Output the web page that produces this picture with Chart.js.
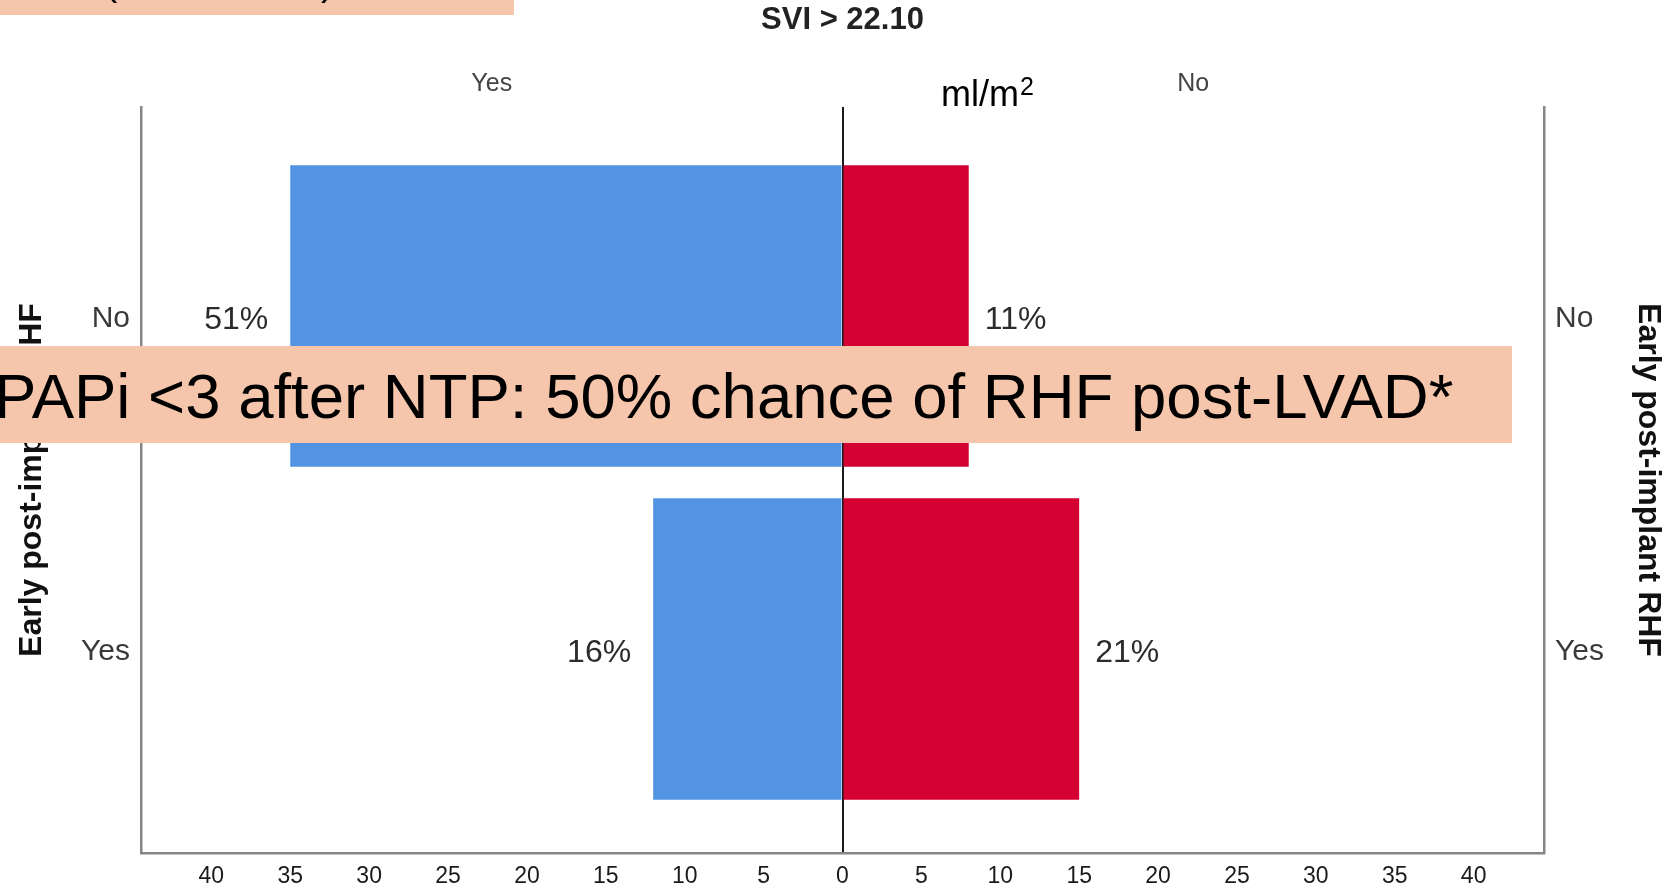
<!DOCTYPE html>
<html>
<head>
<meta charset="utf-8">
<script src="https://cdn.jsdelivr.net/npm/chart.js@4.4.1/dist/chart.umd.min.js"></script>
<style>
  html, body { margin: 0; padding: 0; background: #fff; }
  canvas { display: block; }
</style>
</head>
<body>
<canvas id="rhfChart" width="1672" height="889"></canvas>
<script>
// rows = Early post-implant RHF (No / Yes)
const rowLabels = ['No', 'Yes'];
// top groups = SVI > 22.10 (Yes on the left, No on the right)
const sviLabels = ['Yes', 'No'];
const sviYesCounts = [35, 12];
const sviNoCounts = [8, 15];
const sviYesPct = ['51%', '16%'];
const sviNoPct = ['11%', '21%'];
const xTicks = [-40, -35, -30, -25, -20, -15, -10, -5, 0, 5, 10, 15, 20, 25, 30, 35, 40];

Chart.defaults.font.family = '"Liberation Sans", Arial, sans-serif';

const yRange = { min: -0.6276, max: 1.6126 };
const frameColor = '#858585';

function rowTicks(scale) {
  scale.ticks = rowLabels.map((l, i) => ({ value: i }));
}

const barLabels = {
  id: 'barLabels',
  afterDatasetsDraw(chart) {
    const ctx = chart.ctx;
    ctx.save();
    ctx.font = '32px "Liberation Sans", Arial, sans-serif';
    ctx.fillStyle = '#2b2b2b';
    ctx.textBaseline = 'middle';
    const texts = [sviYesPct, sviNoPct];
    chart.data.datasets.forEach((ds, d) => {
      chart.getDatasetMeta(d).data.forEach((el, i) => {
        if (el.x < el.base) {
          ctx.textAlign = 'right';
          ctx.fillText(texts[d][i], el.x - 22, el.y + 4);
        } else {
          ctx.textAlign = 'left';
          ctx.fillText(texts[d][i], el.x + 16, el.y + 4);
        }
      });
    });
    ctx.restore();
  },
  afterDraw(chart) {
    const ctx = chart.ctx;
    ctx.save();
    // unit note
    ctx.fillStyle = '#000';
    ctx.textAlign = 'left';
    ctx.textBaseline = 'alphabetic';
    ctx.font = '36px "Liberation Sans", Arial, sans-serif';
    ctx.fillText('ml/m', 941, 106);
    const w = ctx.measureText('ml/m').width;
    ctx.font = '25px "Liberation Sans", Arial, sans-serif';
    ctx.fillText('2', 941 + w + 1, 95);

    // slide overlays
    ctx.fillStyle = '#f5c6ab';
    ctx.fillRect(0, 0, 514, 15);
    ctx.fillRect(0, 346, 1512, 97);
    ctx.fillStyle = '#000';
    ctx.font = '40px "Liberation Sans", Arial, sans-serif';
    ctx.fillText('(', 104, -5);
    ctx.fillText(')', 321, -5);
    ctx.font = '63.5px "Liberation Sans", Arial, sans-serif';
    ctx.fillText('PAPi <3 after NTP: 50% chance of RHF post-LVAD*', -6, 418);
    ctx.restore();
  }
};

new Chart(document.getElementById('rhfChart'), {
  type: 'bar',
  data: {
    datasets: [{
      label: 'SVI > 22.10: Yes',
      data: sviYesCounts.map((v, i) => ({ x: -v, y: i })),
      backgroundColor: '#5294e2',
      borderWidth: 0
    }, {
      label: 'SVI > 22.10: No',
      data: sviNoCounts.map((v, i) => ({ x: v, y: i })),
      backgroundColor: '#d50032',
      borderWidth: 0
    }]
  },
  options: {
    indexAxis: 'y',
    responsive: false,
    animation: false,
    devicePixelRatio: 1,
    categoryPercentage: 1,
    barPercentage: 0.905,
    layout: { padding: 0 },
    plugins: {
      legend: { display: false },
      tooltip: { enabled: false }
    },
    scales: {
      x: {
        type: 'linear',
        position: 'bottom',
        stacked: true,
        min: -44.46,
        max: 44.46,
        afterBuildTicks: s => { s.ticks = xTicks.map(v => ({ value: v })); },
        afterFit: s => { s.height = 36; },
        ticks: {
          padding: 10,
          color: '#1a1a1a',
          font: { size: 23 },
          maxRotation: 0,
          autoSkip: false,
          callback: v => String(Math.abs(v))
        },
        grid: {
          drawTicks: false,
          lineWidth: 2,
          color: c => (c.tick && c.tick.value === 0 ? '#1a1a1a' : 'rgba(0,0,0,0)')
        },
        border: { display: true, color: frameColor, width: 2.5 }
      },
      x2: {
        type: 'category',
        position: 'top',
        labels: sviLabels,
        offset: true,
        afterFit: s => { s.height = 107; },
        ticks: { padding: 8, color: '#444', font: { size: 25 } },
        grid: { display: false, drawTicks: false },
        border: { display: false },
        title: {
          display: true,
          text: 'SVI > 22.10',
          color: '#222',
          font: { size: 31, weight: 'bold' },
          padding: { top: 2, bottom: 0 }
        }
      },
      y: {
        type: 'linear',
        position: 'left',
        reverse: true,
        stacked: true,
        offset: false,
        min: yRange.min,
        max: yRange.max,
        afterBuildTicks: rowTicks,
        afterFit: s => { s.width = 141; },
        ticks: {
          padding: 11,
          labelOffset: 3,
          color: '#3a3a3a',
          font: { size: 30 },
          callback: v => rowLabels[v]
        },
        grid: { display: false, drawTicks: false, offset: false },
        border: { display: true, color: frameColor, width: 2.5 },
        title: {
          display: true,
          text: 'Early post-implant RHF',
          color: '#111',
          font: { size: 32, weight: 'bold' },
          padding: { top: 13, bottom: 0 }
        }
      },
      y2: {
        type: 'linear',
        position: 'right',
        reverse: true,
        offset: false,
        min: yRange.min,
        max: yRange.max,
        afterBuildTicks: rowTicks,
        afterFit: s => { s.width = 128; },
        ticks: {
          padding: 11,
          labelOffset: 3,
          color: '#3a3a3a',
          font: { size: 30 },
          callback: v => rowLabels[v]
        },
        grid: { display: false, drawTicks: false, offset: false },
        border: { display: true, color: frameColor, width: 2.5 },
        title: {
          display: true,
          text: 'Early post-implant RHF',
          color: '#111',
          font: { size: 32, weight: 'bold' },
          padding: { top: 5, bottom: 0 }
        }
      }
    }
  },
  plugins: [barLabels]
});
</script>
</body>
</html>
